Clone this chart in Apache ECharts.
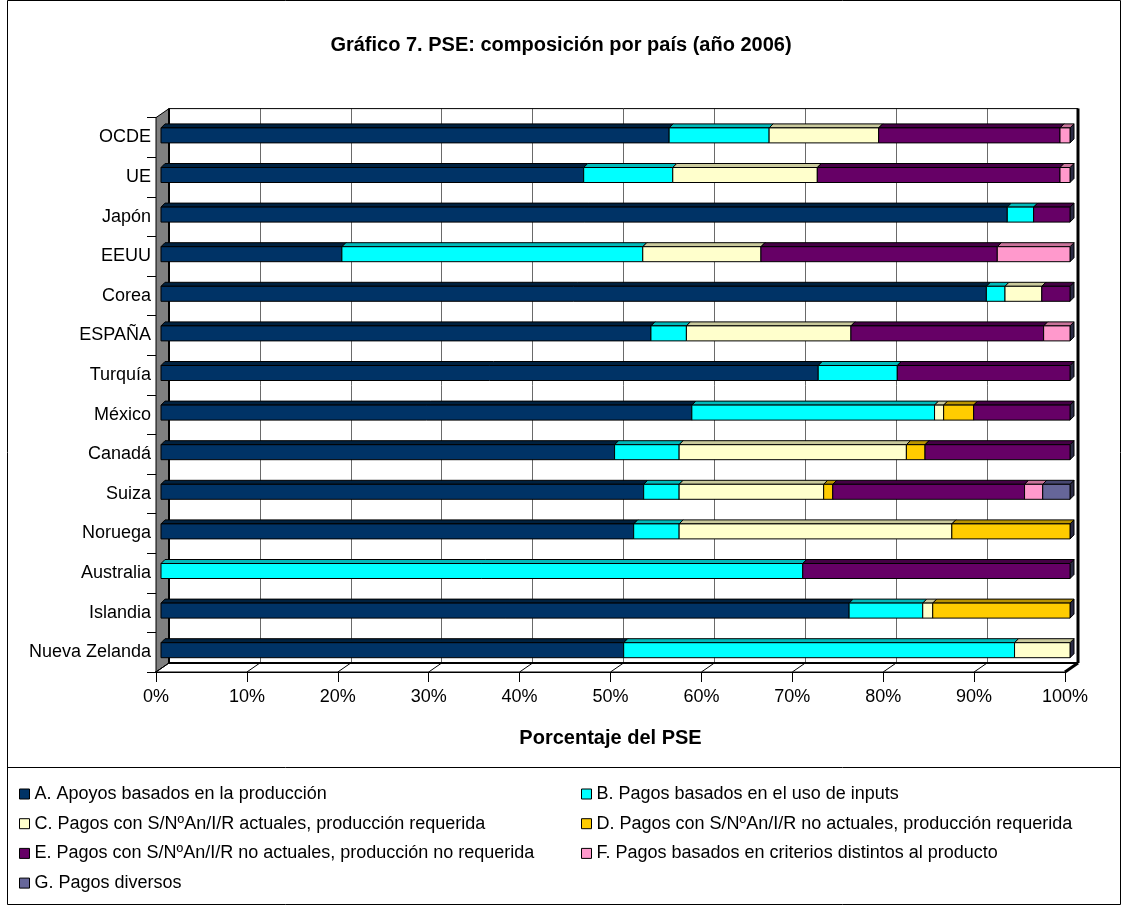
<!DOCTYPE html>
<html>
<head>
<meta charset="utf-8">
<title>Gráfico 7. PSE: composición por país (año 2006)</title>
<script src="https://cdn.jsdelivr.net/npm/echarts@6/dist/echarts.min.js"></script>
<style>
  html, body { margin: 0; padding: 0; background: #fff; }
  #chart { width: 1122px; height: 906px; }
</style>
</head>
<body>
<div id="chart"></div>
<script>
// datos (porcentaje del PSE)
const paises = ['OCDE', 'UE', 'Japón', 'EEUU', 'Corea', 'ESPAÑA', 'Turquía', 'México',
  'Canadá', 'Suiza', 'Noruega', 'Australia', 'Islandia', 'Nueva Zelanda'];
const nombres = [
  'A. Apoyos basados en la producción',
  'B. Pagos basados en el uso de inputs',
  'C. Pagos con S/NºAn/I/R actuales, producción requerida',
  'D. Pagos con S/NºAn/I/R no actuales, producción requerida',
  'E. Pagos con S/NºAn/I/R no actuales, producción no requerida',
  'F. Pagos basados en criterios distintos al producto',
  'G. Pagos diversos'
];
const apoyosProduccion = [55.9, 46.5, 93.1, 19.9, 90.8, 53.9, 72.3, 58.4, 49.9, 53.1, 52.0, 0, 75.7, 50.9];
const pagosInputs      = [11.0, 9.8, 2.9, 33.1, 2.05, 3.9, 8.7, 26.7, 7.1, 3.9, 5.0, 70.6, 8.1, 43.0];
const pagosActualesReq = [12.05, 15.9, 0, 13.0, 4.05, 18.1, 0, 1.0, 25.0, 15.9, 30.0, 0, 1.1, 6.1];
const pagosNoActReq    = [0, 0, 0, 0, 0, 0, 0, 3.3, 2.05, 1.0, 13.0, 0, 15.1, 0];
const pagosNoActNoReq  = [19.95, 26.7, 4.0, 26.0, 3.1, 21.2, 19.0, 10.6, 15.95, 21.1, 0, 29.4, 0, 0];
const pagosOtrosCrit   = [1.1, 1.1, 0, 8.0, 0, 2.9, 0, 0, 0, 2.0, 0, 0, 0, 0];
const pagosDiversos    = [0, 0, 0, 0, 0, 0, 0, 0, 0, 3.0, 0, 0, 0, 0];
const valores = [apoyosProduccion, pagosInputs, pagosActualesReq, pagosNoActReq,
  pagosNoActNoReq, pagosOtrosCrit, pagosDiversos];

// colores estilo Excel
const colores = ['#003366', '#00FFFF', '#FFFFCC', '#FFCC00', '#660066', '#FF99CC', '#666699'];
const coloresTapa = ['#00213F', '#00BABA', '#C9C99C', '#BA9300', '#450045', '#C9739A', '#474770'];

// posiciones del area 3D
const FONT = "'Liberation Sans', Arial, sans-serif";
const L = 156, R = 1065, T = 117.6, B = 672;
const PX = 13, PY = -9;         // desplazamiento de la pared del fondo
const BAR_DX = 5, BAR_DY = -2;  // la barra esta a media profundidad
const BAR_H = 15, BAR_D = 4;

let acumulado = paises.map(() => 0);
const series = valores.map((vals, k) => {
  const datos = [];
  vals.forEach((v, i) => {
    if (v > 0) datos.push([acumulado[i], acumulado[i] + v, i]);
    acumulado[i] += v;
  });
  return {
    name: nombres[k],
    type: 'custom',
    xAxisIndex: 0,
    yAxisIndex: 0,
    itemStyle: { color: colores[k] },
    encode: { x: [0, 1], y: 2 },
    data: datos,
    z: 3,
    renderItem: (params, api) => {
      const p0 = api.coord([api.value(0), api.value(2)]);
      const p1 = api.coord([api.value(1), api.value(2)]);
      const x0 = p0[0] + BAR_DX, x1 = p1[0] + BAR_DX;
      const yt = p0[1] + BAR_DY - BAR_H / 2, yb = yt + BAR_H;
      const d = BAR_D;
      const borde = { stroke: '#000', lineWidth: 1 };
      return {
        type: 'group',
        children: [
          { type: 'polygon', shape: { points: [[x1, yt], [x1 + d, yt - d], [x1 + d, yb - d], [x1, yb]] },
            style: Object.assign({ fill: '#2B2B45' }, borde) },
          { type: 'polygon', shape: { points: [[x0, yt], [x0 + d, yt - d], [x1 + d, yt - d], [x1, yt]] },
            style: Object.assign({ fill: coloresTapa[k] }, borde) },
          { type: 'rect', shape: { x: x0, y: yt, width: x1 - x0, height: BAR_H },
            style: Object.assign({ fill: colores[k] }, borde) }
        ]
      };
    }
  };
});

const ticksX = [0, 10, 20, 30, 40, 50, 60, 70, 80, 90, 100];

// paredes y suelo del grafico 3D
const linea = (x1, y1, x2, y2, w) => ({
  type: 'line', z: 2, shape: { x1, y1, x2, y2 }, style: { stroke: '#000', lineWidth: w }
});
const graficos = [
  { type: 'rect', z: 0, shape: { x: 7.5, y: 0.5, width: 1113, height: 904 },
    style: { fill: 'none', stroke: '#000', lineWidth: 1 } },
  linea(7, 767.5, 1121, 767.5, 1),
  { type: 'polygon', z: 1, shape: { points: [[L, T], [L + PX, T + PY], [L + PX, B + PY], [L, B]] },
    style: { fill: '#808080', stroke: '#000', lineWidth: 1 } },
  { type: 'polygon', z: 1, shape: { points: [[L, B], [L + PX, B + PY], [R + PX, B + PY], [R, B]] },
    style: { fill: '#fff', stroke: '#000', lineWidth: 1 } },
  linea(L + PX, T + PY, R + PX, T + PY, 1)
];
ticksX.forEach(t => {
  const x = L + (R - L) * t / 100;
  graficos.push(linea(x, B, x + PX, B + PY, 1));
});
graficos.push(
  linea(L + PX, T + PY, L + PX, B + PY, 2),
  linea(L + PX, B + PY, R + PX, B + PY, 2),
  linea(R + PX, T + PY, R + PX, B + PY, 3),
  linea(R + PX, B + PY, R, B, 3)
);

const chart = echarts.init(document.getElementById('chart'));
const legendaBase = {
  orient: 'vertical',
  top: 779,
  itemGap: 9.7,
  itemWidth: 10,
  itemHeight: 10,
  icon: 'rect',
  selectedMode: false,
  itemStyle: { borderColor: '#000', borderWidth: 1 },
  textStyle: { fontSize: 18, fontFamily: FONT, color: '#000', lineHeight: 20 }
};
const option = {
  animation: false,
  backgroundColor: '#fff',
  textStyle: { fontFamily: FONT },
  title: {
    text: 'Gráfico 7. PSE: composición por país (año 2006)',
    left: 'center',
    top: 30,
    textStyle: { fontSize: 20, fontWeight: 'bold', fontFamily: FONT, color: '#000' }
  },
  legend: [
    Object.assign({ left: 14, data: [nombres[0], nombres[2], nombres[4], nombres[6]] }, legendaBase),
    Object.assign({ left: 576, data: [nombres[1], nombres[3], nombres[5]] }, legendaBase)
  ],
  grid: [
    { left: L, top: T, width: R - L, height: B - T },
    { left: L + PX, top: T + PY, width: R - L, height: B - T }
  ],
  xAxis: [
    {
      gridIndex: 0, type: 'value', min: 0, max: 100, interval: 10,
      name: 'Porcentaje del PSE', nameLocation: 'middle', nameGap: 56,
      nameTextStyle: { fontSize: 20, fontWeight: 'bold', fontFamily: FONT, color: '#000' },
      axisLine: { show: true, lineStyle: { color: '#000', width: 2 } },
      axisTick: { show: true, length: 10, lineStyle: { color: '#000' } },
      axisLabel: { formatter: '{value}%', fontSize: 18, fontFamily: FONT, color: '#000', margin: 16 },
      splitLine: { show: false }
    },
    {
      gridIndex: 1, type: 'value', min: 0, max: 100, interval: 10,
      axisLine: { show: false }, axisTick: { show: false }, axisLabel: { show: false },
      splitLine: { show: true, lineStyle: { color: '#6A6A6A', width: 1 } }
    }
  ],
  yAxis: [
    {
      gridIndex: 0, type: 'category', data: paises, inverse: true,
      axisLine: { show: true, lineStyle: { color: '#000', width: 1 } },
      axisTick: { show: true, length: 9, lineStyle: { color: '#000' } },
      axisLabel: { fontSize: 18, fontFamily: FONT, color: '#000', margin: 5 }
    },
    {
      gridIndex: 1, type: 'value', min: 0, max: 1, show: false
    }
  ],
  graphic: graficos,
  series: series
};
chart.setOption(option);
</script>
</body>
</html>
